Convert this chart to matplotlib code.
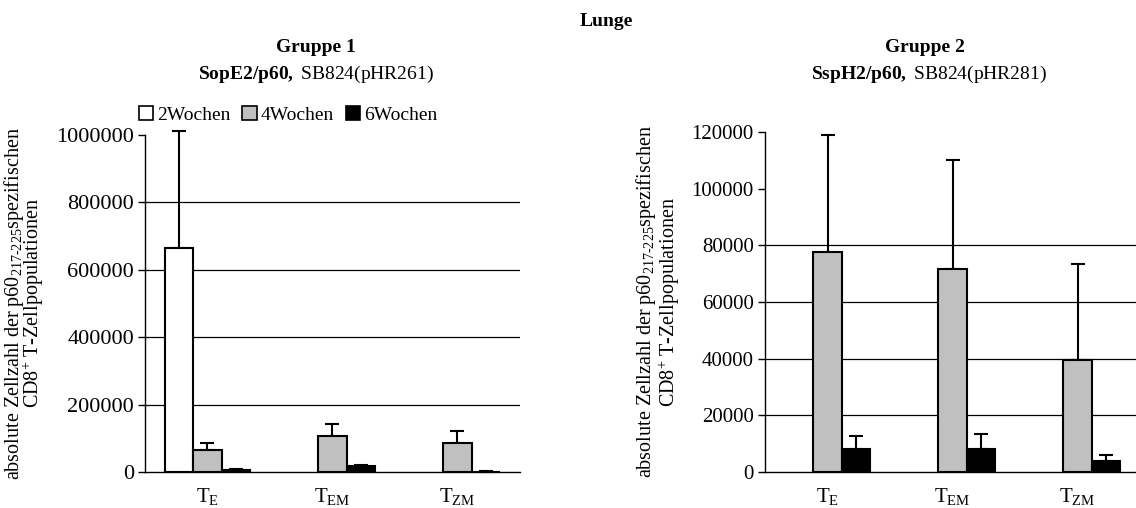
import numpy as np
import matplotlib
matplotlib.use("Agg")
import matplotlib.pyplot as plt
from matplotlib.patches import Patch

plt.rcParams['font.family'] = 'Liberation Serif'
plt.rcParams['mathtext.fontset'] = 'custom'
plt.rcParams['mathtext.rm'] = 'Liberation Serif'
plt.rcParams['mathtext.bf'] = 'Liberation Serif:bold'
plt.rcParams['mathtext.it'] = 'Liberation Serif:italic'

populations = [r'$\mathrm{T}_{\mathrm{E}}$', r'$\mathrm{T}_{\mathrm{EM}}$', r'$\mathrm{T}_{\mathrm{ZM}}$']
weeks = ['2Wochen', '4Wochen', '6Wochen']
colors = ['white', '#c0c0c0', 'black']
nan = np.nan

# Gruppe 1: SopE2/p60
g1_2w = [665000, nan, nan]
g1_2w_err = [345000, 0, 0]
g1_4w = [66000, 108000, 88000]
g1_4w_err = [22000, 36000, 34000]
g1_6w = [7000, 18000, 1500]
g1_6w_err = [2000, 5000, 1000]

# Gruppe 2: SspH2/p60
g2_2w = [nan, nan, nan]
g2_2w_err = [0, 0, 0]
g2_4w = [77500, 71500, 39600]
g2_4w_err = [41600, 38700, 33800]
g2_6w = [8000, 8000, 4000]
g2_6w_err = [4600, 5500, 1900]

ylabel = ('absolute Zellzahl der p60$_{\\text{217-225}}$spezifischen\n'
          'CD8$^{+}$ T-Zellpopulationen')

W, H = 1136, 508
fig = plt.figure(figsize=(W / 100, H / 100), dpi=100)


def px(x, y):
    return x / W, 1 - y / H


def draw_panel(ax, series, errs, ymax, step, grid_levels, tick_fs, lab_spacing):
    x = np.arange(len(populations))
    w = 0.225
    for i, (vals, err, col) in enumerate(zip(series, errs, colors)):
        vals = np.array(vals, dtype=float)
        err = np.array(err, dtype=float)
        xs = x + (i - 1) * w
        ax.bar(xs, vals, w, color=col, edgecolor='black', linewidth=1.5, zorder=3)
        ok = ~np.isnan(vals)
        eb = ax.errorbar(xs[ok], vals[ok], yerr=[np.zeros(ok.sum()), err[ok]], fmt='none',
                         ecolor='black', elinewidth=1.5, capsize=5, capthick=1.5, zorder=2)
        for artist in eb.lines[1] + eb.lines[2]:
            artist.set_clip_on(False)
    for lv in grid_levels:
        ax.axhline(lv, color='black', lw=0.9, zorder=1)
    ax.set_xlim(-0.5, 2.5)
    ax.set_ylim(0, ymax)
    ticks = np.arange(0, ymax + 1, step)
    ax.set_yticks(ticks)
    ax.set_yticklabels([str(int(t)) for t in ticks], fontsize=tick_fs)
    ax.set_xticks(x)
    ax.set_xticklabels(populations, fontsize=15)
    ax.tick_params(axis='x', length=0, pad=10)
    ax.tick_params(axis='y', length=5, width=1, pad=3)
    for s in ['top', 'right']:
        ax.spines[s].set_visible(False)
    for s in ['left', 'bottom']:
        ax.spines[s].set_linewidth(1.0)
    ax.set_ylabel(ylabel, fontsize=14.5, linespacing=lab_spacing)


ax1 = fig.add_axes([145 / W, (H - 472.3) / H, 375 / W, 337.6 / H])
draw_panel(ax1, [g1_2w, g1_4w, g1_6w], [g1_2w_err, g1_4w_err, g1_6w_err],
           1000000, 200000, [200000, 400000, 600000, 800000], 16, 0.72)
ax1.yaxis.set_label_coords(-0.263, 0.5)

ax2 = fig.add_axes([765 / W, (H - 472) / H, 375 / W, 340 / H])
draw_panel(ax2, [g2_2w, g2_4w, g2_6w], [g2_2w_err, g2_4w_err, g2_6w_err],
           120000, 20000, [20000, 40000, 60000, 80000], 15, 0.9)
ax2.yaxis.set_label_coords(-0.222, 0.5)

fig.text(*px(606, 21), 'Lunge', fontsize=14, fontweight='bold', ha='center', va='center')
fig.text(*px(316, 48), 'Gruppe 1', fontsize=14, fontweight='bold', ha='center', va='center')
fig.text(*px(316, 74), r'$\mathbf{SopE2/p60,}$ SB824(pHR261)', fontsize=14, ha='center', va='center')
fig.text(*px(925, 48), 'Gruppe 2', fontsize=14, fontweight='bold', ha='center', va='center')
fig.text(*px(929, 74), r'$\mathbf{SspH2/p60,}$ SB824(pHR281)', fontsize=14, ha='center', va='center')

handles = [Patch(facecolor=c, edgecolor='black', linewidth=1.2) for c in colors]
fig.legend(handles, weeks, loc='center', bbox_to_anchor=px(288, 115), ncol=3,
           frameon=False, fontsize=14, handlelength=0.75, handleheight=0.75,
           handletextpad=0.2, columnspacing=0.6, borderaxespad=0)

fig.savefig('out.png', dpi=100)
